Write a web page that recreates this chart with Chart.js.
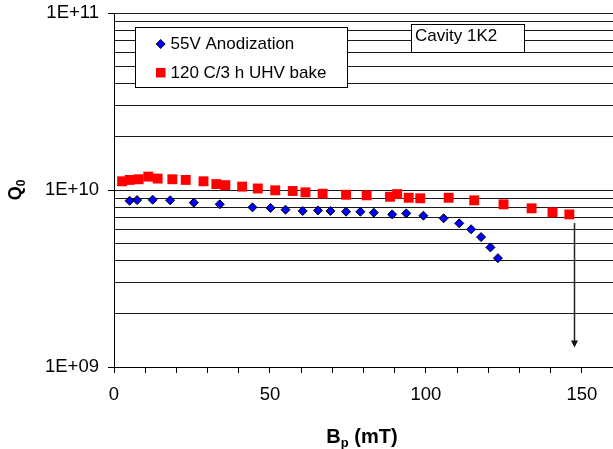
<!DOCTYPE html>
<html>
<head>
<meta charset="utf-8">
<script src="https://cdn.jsdelivr.net/npm/chart.js@4/dist/chart.umd.min.js"></script>
<style>
  html, body { margin: 0; padding: 0; background: #fff; }
  #wrap { width: 613px; height: 449px; position: relative; }
</style>
</head>
<body>
<div id="wrap"><canvas id="c" width="613" height="449"></canvas></div>
<script>
// ---- Data ----
const seriesNames = ['55V Anodization', '120 C/3 h UHV bake'];
const anodX = [5.0, 7.4, 12.4, 18.0, 25.6, 33.9, 44.4, 50.2, 55.0, 60.5, 65.4, 69.4, 74.4, 79.0, 83.3, 89.2, 93.7, 99.2, 105.7, 110.7, 114.5, 117.7, 120.7, 123.1];
const anodQ = [8.69e9, 8.77e9, 8.81e9, 8.75e9, 8.48e9, 8.30e9, 7.98e9, 7.92e9, 7.74e9, 7.61e9, 7.67e9, 7.61e9, 7.54e9, 7.54e9, 7.45e9, 7.28e9, 7.38e9, 7.16e9, 6.92e9, 6.48e9, 6.00e9, 5.42e9, 4.74e9, 4.12e9];
const bakeX = [2.6, 5.0, 7.9, 11.0, 14.0, 18.7, 23.0, 28.7, 32.8, 35.7, 41.1, 46.1, 51.7, 57.3, 61.4, 66.9, 74.4, 81.0, 88.5, 90.8, 94.5, 98.2, 107.3, 115.5, 124.9, 133.9, 140.6, 146.0];
const bakeQ = [1.12e10, 1.14e10, 1.15e10, 1.19e10, 1.16e10, 1.15e10, 1.14e10, 1.12e10, 1.08e10, 1.065e10, 1.045e10, 1.02e10, 9.96e9, 9.87e9, 9.70e9, 9.53e9, 9.40e9, 9.33e9, 9.16e9, 9.48e9, 9.04e9, 8.98e9, 9.04e9, 8.74e9, 8.30e9, 7.88e9, 7.48e9, 7.28e9];
const xTickValues = [0, 50, 100, 150];
const yTickValues = [1e9, 1e10, 1e11];
const yTickLabels = ['1E+09', '1E+10', '1E+11'];
const annotationText = 'Cavity 1K2';
const arrowX = [147.5];
const arrowQ = [6.5e9, 1.29e9];

const FONT = '"Liberation Sans", Arial, sans-serif';

// all log gridline values (1..9 x 10^n)
const gridValues = [];
for (let e = 9; e <= 10; e++) for (let m = 1; m <= 9; m++) gridValues.push(m * Math.pow(10, e));
gridValues.push(1e11);
const isMajorY = v => yTickValues.some(t => Math.abs(t - v) / t < 1e-6);

function drawDiamond(ctx, x, y, r) {
  ctx.beginPath();
  ctx.moveTo(x, y - r); ctx.lineTo(x + r, y); ctx.lineTo(x, y + r); ctx.lineTo(x - r, y); ctx.closePath();
  ctx.fillStyle = '#0000ff'; ctx.fill();
  ctx.lineWidth = 1; ctx.strokeStyle = '#000'; ctx.stroke();
}

const overlay = {
  id: 'overlay',
  afterDraw(chart) {
    const ctx = chart.ctx;
    const xs = chart.scales.x, ys = chart.scales.y;
    ctx.save();
    // arrow
    const ax = Math.round(xs.getPixelForValue(arrowX[0])) + 0.5;
    const ay1 = ys.getPixelForValue(arrowQ[0]);
    const ay2 = ys.getPixelForValue(arrowQ[1]);
    ctx.strokeStyle = '#222'; ctx.lineWidth = 1.5;
    ctx.beginPath(); ctx.moveTo(ax, ay1); ctx.lineTo(ax, ay2 - 6); ctx.stroke();
    ctx.fillStyle = '#111';
    ctx.beginPath(); ctx.moveTo(ax - 3.5, ay2 - 7); ctx.lineTo(ax + 3.5, ay2 - 7); ctx.lineTo(ax, ay2); ctx.closePath(); ctx.fill();

    // legend box
    ctx.fillStyle = '#fff'; ctx.strokeStyle = '#000'; ctx.lineWidth = 1;
    ctx.fillRect(135.5, 27.5, 212, 60);
    ctx.strokeRect(135.5, 27.5, 212, 60);
    drawDiamond(ctx, 160.7, 44, 4.5);
    ctx.fillStyle = '#ff0000';
    ctx.fillRect(156, 68, 9.5, 9.5);
    ctx.fillStyle = '#000';
    ctx.font = '17px ' + FONT;
    ctx.textAlign = 'left'; ctx.textBaseline = 'middle';
    ctx.fillText(chart.data.datasets[0].label, 170.5, 44.5);
    ctx.fillText(chart.data.datasets[1].label, 170.5, 73.5);

    // annotation box
    ctx.fillStyle = '#fff';
    ctx.fillRect(411.5, 24.5, 113, 28);
    ctx.strokeRect(411.5, 24.5, 113, 28);
    ctx.fillStyle = '#000';
    ctx.fillText(annotationText, 415, 36);

    // axis titles with subscripts
    ctx.textBaseline = 'alphabetic';
    // x title: B_p (mT)
    const bigX = 'bold 20px ' + FONT, smallX = 'bold 13px ' + FONT;
    ctx.font = bigX; const wB = ctx.measureText('B').width; const wR = ctx.measureText(' (mT)').width;
    ctx.font = smallX; const wp = ctx.measureText('p').width;
    let tx = 362 - (wB + wp + wR) / 2; const by = 443;
    ctx.font = bigX; ctx.fillText('B', tx, by); tx += wB;
    ctx.font = smallX; ctx.fillText('p', tx, by + 4); tx += wp;
    ctx.font = bigX; ctx.fillText(' (mT)', tx, by);
    // y title: Q_0 rotated
    const big = 'bold 18px ' + FONT, small = 'bold 12px ' + FONT;
    ctx.save();
    ctx.translate(21, 190);
    ctx.rotate(-Math.PI / 2);
    ctx.font = big; const wQ = ctx.measureText('Q').width;
    ctx.font = small; const w0 = ctx.measureText('0').width;
    let qx = -(wQ + w0) / 2;
    ctx.font = big; ctx.fillText('Q', qx, 0); qx += wQ;
    ctx.font = small; ctx.fillText('0', qx, 4);
    ctx.restore();
    ctx.restore();
  }
};

new Chart(document.getElementById('c'), {
  type: 'scatter',
  data: {
    datasets: [
      {
        label: seriesNames[0],
        data: anodX.map((x, i) => ({ x, y: anodQ[i] })),
        pointStyle: 'rectRot', pointRadius: 4.5, pointHoverRadius: 4.5,
        backgroundColor: '#0000ff', borderColor: '#000', borderWidth: 1
      },
      {
        label: seriesNames[1],
        data: bakeX.map((x, i) => ({ x, y: bakeQ[i] })),
        pointStyle: 'rect', pointRadius: 7, pointHoverRadius: 7,
        backgroundColor: '#ff0000', borderColor: '#ff0000', borderWidth: 0
      }
    ]
  },
  options: {
    responsive: false,
    animation: false,
    devicePixelRatio: 1,
    layout: { autoPadding: false, padding: { top: 13, left: 0, right: 0, bottom: 0 } },
    plugins: { legend: { display: false }, tooltip: { enabled: false } },
    scales: {
      x: {
        type: 'linear', min: 0, max: 160,
        afterBuildTicks(s) {
          const t = []; for (let v = 0; v <= 160; v += 10) t.push({ value: v });
          s.ticks = t;
        },
        afterFit(s) { s.height = 82; s.paddingLeft = 0; s.paddingRight = 0; },
        ticks: {
          autoSkip: false, maxRotation: 0, padding: 11,
          color: '#000', font: { family: FONT, size: 18.5 },
          callback: v => xTickValues.includes(v) ? String(v) : ''
        },
        grid: { drawOnChartArea: false, drawTicks: true, tickLength: 6, tickColor: '#000', tickWidth: 1 },
        border: { display: true, color: '#000', width: 1 }
      },
      y: {
        type: 'logarithmic', min: 1e9, max: 1e11,
        afterBuildTicks(s) { s.ticks = gridValues.map(v => ({ value: v, major: isMajorY(v) })); },
        afterFit(s) { s.width = 114; s.paddingTop = 0; s.paddingBottom = 0; },
        ticks: {
          autoSkip: false, padding: 9,
          color: '#000', font: { family: FONT, size: 18.5 },
          callback: v => { const i = yTickValues.findIndex(t => Math.abs(t - v) / t < 1e-6); return i >= 0 ? yTickLabels[i] : ''; }
        },
        grid: {
          drawOnChartArea: true, drawTicks: true, tickLength: 6,
          color: '#1a1a1a', lineWidth: 1,
          tickColor: c => (c.tick && isMajorY(c.tick.value)) ? '#000' : 'rgba(0,0,0,0)'
        },
        border: { display: true, color: '#000', width: 1 }
      }
    }
  },
  plugins: [overlay]
});
</script>
</body>
</html>
